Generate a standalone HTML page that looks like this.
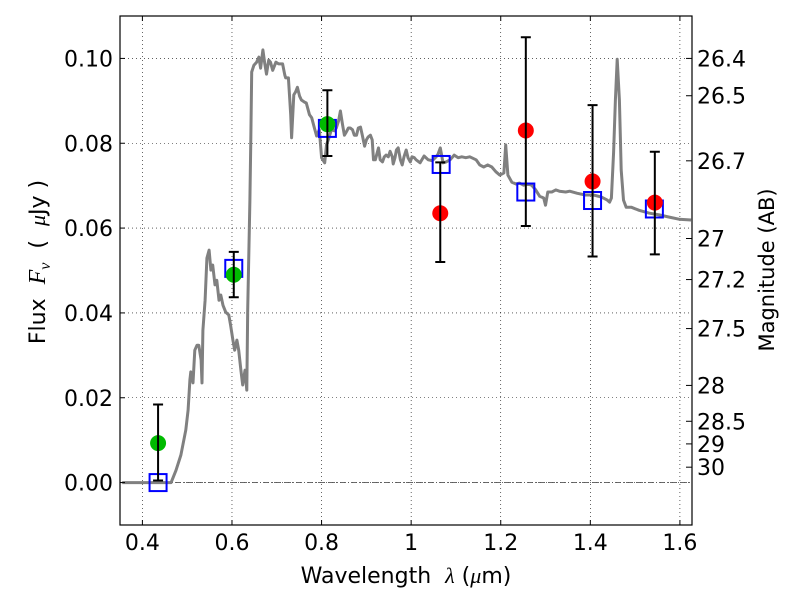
<!DOCTYPE html>
<html><head><meta charset="utf-8"><style>
body{margin:0;background:#fff}
svg text{font-family:"DejaVu Sans","Liberation Sans",sans-serif;fill:#000}
svg text .m{font-family:"Liberation Serif","DejaVu Serif",serif;font-style:italic}
</style></head><body>
<svg id="chart" width="800" height="600" viewBox="0 0 800 600" xmlns="http://www.w3.org/2000/svg">
<g id="grid"></g>
<g id="plot"></g>
<g id="axes"></g>
<text x="406" y="583" text-anchor="middle" font-size="22" xml:space="preserve">Wavelength  <tspan class="m">λ</tspan> (<tspan class="m">μ</tspan>m)</text>
<text x="0" y="0" text-anchor="middle" font-size="22" transform="translate(45,262) rotate(-90)" xml:space="preserve">Flux  <tspan class="m" font-size="24">F</tspan><tspan class="m" font-size="16" dy="5">ν</tspan><tspan dy="-5">  (  </tspan><tspan class="m">μ</tspan>Jy )</text>
<text x="0" y="0" text-anchor="middle" font-size="21" transform="translate(774,270) rotate(-90)">Magnitude (AB)</text>
</svg>
<script>
const specLam=[0.355,0.464,0.475,0.486,0.497,0.502,0.506,0.508,0.513,0.517,0.522,0.526,0.531,0.533,0.535,0.540,0.544,0.549,0.553,0.557,0.562,0.566,0.571,0.575,0.580,0.586,0.593,0.597,0.602,0.606,0.611,0.615,0.620,0.624,0.629,0.633,0.635,0.640,0.642,0.644,0.649,0.655,0.660,0.664,0.669,0.673,0.677,0.682,0.686,0.691,0.698,0.704,0.713,0.718,0.720,0.726,0.729,0.731,0.733,0.738,0.742,0.746,0.751,0.755,0.762,0.766,0.773,0.778,0.784,0.789,0.795,0.800,0.807,0.811,0.815,0.822,0.829,0.833,0.838,0.842,0.847,0.851,0.855,0.860,0.864,0.869,0.873,0.878,0.882,0.887,0.891,0.896,0.900,0.904,0.909,0.913,0.916,0.920,0.927,0.931,0.936,0.940,0.944,0.949,0.953,0.958,0.960,0.964,0.967,0.971,0.976,0.980,0.984,0.989,0.993,0.998,1.002,1.007,1.011,1.020,1.029,1.038,1.047,1.056,1.060,1.065,1.071,1.078,1.087,1.096,1.105,1.113,1.122,1.131,1.145,1.153,1.162,1.171,1.180,1.189,1.198,1.207,1.211,1.216,1.225,1.234,1.242,1.251,1.260,1.269,1.278,1.287,1.296,1.300,1.305,1.314,1.323,1.331,1.345,1.354,1.371,1.389,1.407,1.425,1.438,1.443,1.447,1.452,1.456,1.460,1.465,1.469,1.474,1.480,1.492,1.509,1.532,1.554,1.576,1.598,1.625];
const specFlux=[0,0,0.0029,0.0065,0.0124,0.0171,0.0242,0.0261,0.0235,0.0312,0.0324,0.0324,0.0289,0.0235,0.0359,0.0430,0.0529,0.0548,0.0501,0.0513,0.0466,0.0477,0.0430,0.0442,0.0418,0.0402,0.0395,0.0371,0.0336,0.0312,0.0336,0.0312,0.0265,0.0230,0.0265,0.0218,0.0407,0.0666,0.0807,0.0968,0.0984,0.0991,0.1003,0.0977,0.1020,0.0989,0.0963,0.0996,0.0991,0.0972,0.0991,0.0987,0.0987,0.0961,0.0954,0.0954,0.0902,0.0867,0.0813,0.0914,0.0921,0.0932,0.0911,0.0902,0.0897,0.0895,0.0867,0.0860,0.0836,0.0817,0.0832,0.0766,0.0754,0.0796,0.0808,0.0832,0.0829,0.0836,0.0853,0.0876,0.0843,0.0819,0.0826,0.0836,0.0836,0.0832,0.0819,0.0819,0.0836,0.0838,0.0819,0.0793,0.0808,0.0815,0.0819,0.0808,0.0761,0.0761,0.0789,0.0761,0.0756,0.0768,0.0772,0.0768,0.0781,0.0768,0.0751,0.0766,0.0784,0.0789,0.0761,0.0749,0.0768,0.0784,0.0766,0.0756,0.0768,0.0766,0.0761,0.0754,0.0770,0.0761,0.0759,0.0768,0.0774,0.0789,0.0754,0.0756,0.0761,0.0772,0.0766,0.0768,0.0766,0.0768,0.0761,0.0749,0.0744,0.0749,0.0744,0.0733,0.0725,0.0730,0.0796,0.0725,0.0708,0.0704,0.0706,0.0701,0.0704,0.0701,0.0690,0.0675,0.0671,0.0654,0.0685,0.0685,0.0690,0.0687,0.0685,0.0687,0.0682,0.0678,0.0678,0.0673,0.0666,0.0661,0.0671,0.0779,0.0902,0.0998,0.0902,0.0737,0.0666,0.0649,0.0649,0.0642,0.0635,0.0631,0.0626,0.0621,0.0619];
const greenLam=[0.435,0.604,0.813];
const greenFlux=[0.0093,0.0490,0.0845];
const greenErrHi=[0.0184,0.0544,0.0925];
const greenErrLo=[0.0005,0.0437,0.0770];
const redLam=[1.065,1.256,1.405,1.544];
const redFlux=[0.0635,0.0830,0.0710,0.0660];
const redErrHi=[0.0755,0.1050,0.0890,0.0780];
const redErrLo=[0.0520,0.0605,0.0533,0.0538];
const modelLam=[0.435,0.604,0.813,1.067,1.256,1.405,1.543];
const modelFlux=[0.0000,0.0505,0.0835,0.0750,0.0685,0.0665,0.0645];
const xTicks=[0.4,0.6,0.8,1.0,1.2,1.4,1.6];
const xTickLabels=["0.4","0.6","0.8","1","1.2","1.4","1.6"];
const yTicks=[0,0.02,0.04,0.06,0.08,0.10];
const yTickLabels=["0.00","0.02","0.04","0.06","0.08","0.10"];
const magTicks=[26.4,26.5,26.7,27,27.2,27.5,28,28.5,29,30];
const magTickLabels=["26.4","26.5","26.7","27","27.2","27.5","28","28.5","29","30"];

const L=120,R=692,T=16,B=525;
const x0=0.35,x1=1.627,y0=-0.01,y1=0.11;
const X=v=>L+(v-x0)/(x1-x0)*(R-L);
const Y=v=>B-(v-y0)/(y1-y0)*(B-T);
const NS="http://www.w3.org/2000/svg";
function mk(parent,tag,attrs,text){const e=document.createElementNS(NS,tag);for(const k in attrs)e.setAttribute(k,attrs[k]);if(text!==undefined)e.textContent=text;parent.appendChild(e);return e;}
const grid=document.getElementById('grid'),plot=document.getElementById('plot'),axes=document.getElementById('axes');

xTicks.forEach((t,i)=>{
 let g=mk(grid,'line',{x1:X(t),x2:X(t),y1:T,y2:B,stroke:'#000','stroke-width':0.6,'stroke-dasharray':'1,3'});
 
 
 let tk=mk(axes,'line',{x1:X(t),x2:X(t),y1:B,y2:B-5,stroke:'#000'});
 
 
 let tk2=mk(axes,'line',{x1:X(t),x2:X(t),y1:T,y2:T+5,stroke:'#000'});
 
 
 let lb=mk(axes,'text',{x:X(t),y:B+25,'text-anchor':'middle','font-size':22},xTickLabels[i]);
 
 
});
yTicks.forEach((t,i)=>{
 let g=mk(grid,'line',{x1:L,x2:R,y1:Y(t),y2:Y(t),stroke:'#000','stroke-width':0.6,'stroke-dasharray':'1,3'});
 
 
 let tk=mk(axes,'line',{x1:L,x2:L+5,y1:Y(t),y2:Y(t),stroke:'#000'});
 
 
 let lb=mk(axes,'text',{x:L-7,y:Y(t)+8,'text-anchor':'end','font-size':22},yTickLabels[i]);
 
 
});
magTicks.forEach((m,i)=>{
 const f=Math.pow(10,(23.9-m)/2.5);
 let tk=mk(axes,'line',{x1:R,x2:R-6,y1:Y(f),y2:Y(f),stroke:'#000'});
 
 
 let lb=mk(axes,'text',{x:R+5,y:Y(f)+8,'text-anchor':'start','font-size':22},magTickLabels[i]);
 
 
});
let zl=mk(plot,'line',{x1:L,x2:R,y1:Y(0),y2:Y(0),stroke:'#555','stroke-width':0.8,'stroke-dasharray':'6,2,1,2'});


let d=specLam.map((l,i)=>(i?'L':'M')+X(l).toFixed(1)+','+Y(specFlux[i]).toFixed(1)).join(' ');
let sp=mk(plot,'path',{d:d,fill:'none',stroke:'#808080','stroke-width':3,'stroke-linejoin':'round'});


modelLam.forEach((l,i)=>{
 let r=mk(plot,'rect',{x:X(l)-8.5,y:Y(modelFlux[i])-8.5,width:17,height:17,fill:'none',stroke:'#0000ff','stroke-width':2});
 
 
});
function pts(lam,fl,hi,lo,col,name){
 lam.forEach((l,i)=>{
  const cx=X(l);
  let c=mk(plot,'circle',{cx:cx,cy:Y(fl[i]),r:8,fill:col});
  
  
  let e=mk(plot,'path',{d:`M${cx},${Y(hi[i])}V${Y(lo[i])}M${cx-5},${Y(hi[i])}h10M${cx-5},${Y(lo[i])}h10`,stroke:'#000','stroke-width':2,fill:'none'});
  
  
 });
}
pts(greenLam,greenFlux,greenErrHi,greenErrLo,'#00bb00','optical');
pts(redLam,redFlux,redErrHi,redErrLo,'#ff0000','nir');
let fr=mk(axes,'rect',{x:L,y:T,width:R-L,height:B-T,fill:'none',stroke:'#000','stroke-width':1.2});


</script>
</body></html>
